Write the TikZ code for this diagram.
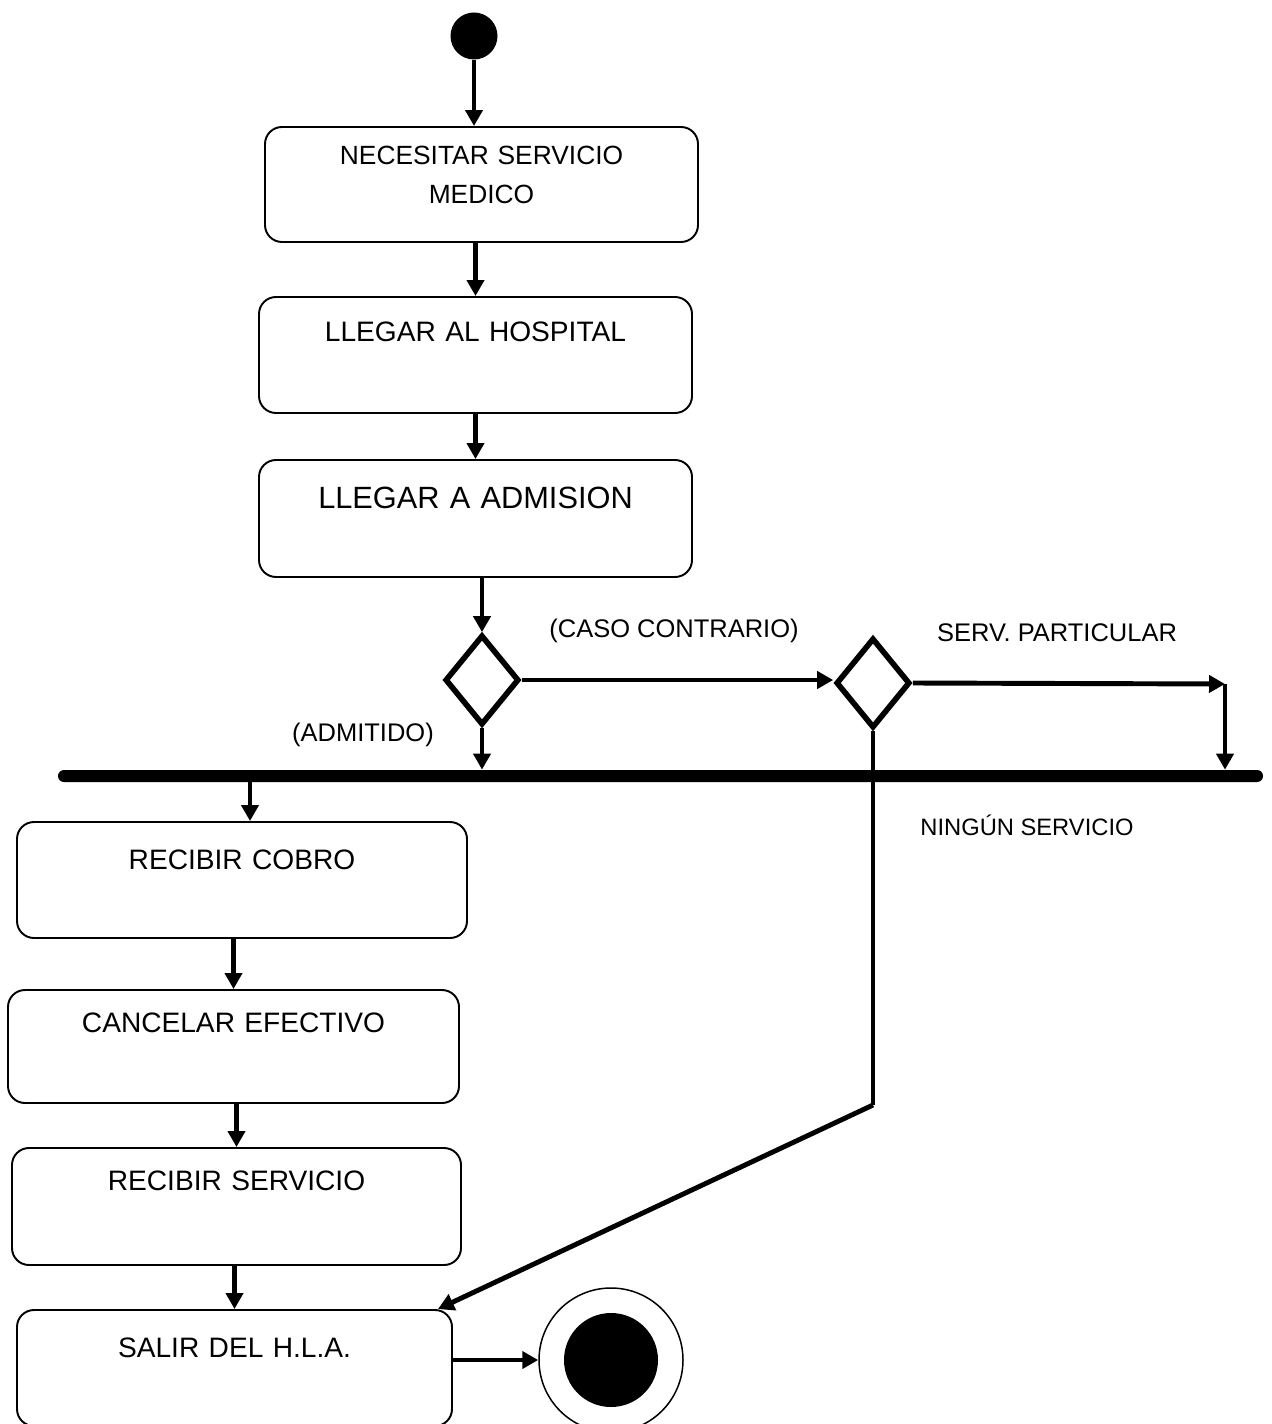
\documentclass[tikz,border=0pt]{standalone}
\usepackage{fontspec}
\setmainfont{Liberation Sans}
\usetikzlibrary{arrows.meta,shapes.geometric}

\begin{document}
\begin{tikzpicture}[
    x=0.2mm, y=-0.2mm,
    activity/.style={draw=black, line width=1.1pt, rounded corners=3.4mm, align=center,
      text width=#1, inner xsep=0pt, inner ysep=0pt, text height=9mm, text depth=14.2mm,
      font=\fontsize{16}{22}\selectfont},
    activity/.default=86.6mm,
    decision/.style={draw=black, line width=3.2pt, diamond, inner sep=0pt,
      minimum width=14.8mm, minimum height=18mm},
    bar/.style={fill=black, rounded corners=1.2mm, minimum width=241mm,
      minimum height=2.4mm, inner sep=0pt},
    guard/.style={font=\fontsize{14.5}{17}\selectfont, inner sep=0pt},
    arrow/.style={-{Triangle[length=3.2mm,width=3.4mm]}, line width=2.8pt}
  ]
    \useasboundingbox (0,0) rectangle (1271,1424);

    \node[circle, fill, minimum size=9.4mm, inner sep=0pt] (start) at (474,36) {};
    \node[activity, text height=7.6mm, text depth=15.4mm, font=\fontsize{15}{22}\selectfont]
      (need) at (481.5,184.5) {NECESITAR SERVICIO\\MEDICO};
    \node[activity] (hospital) at (475.5,355) {LLEGAR AL HOSPITAL};
    \node[activity, text height=9.6mm, text depth=13.8mm, font=\fontsize{17.5}{21}\selectfont]
      (admision) at (475.5,518.5) {LLEGAR A ADMISION};

    \node[decision] (admit) at (482,680) {};
    \node[decision] (tipo) at (873,683) {};
    \node[bar] (fork) at (660.5,776) {};

    \node[activity=90mm, text height=9.4mm, text depth=13.8mm] (cobro) at (242,880) {RECIBIR COBRO};
    \node[activity=90.2mm, text height=8.4mm, text depth=14.2mm] (efectivo) at (233.5,1046.5) {CANCELAR EFECTIVO};
    \node[activity=89.8mm, text height=8.4mm, text depth=15mm] (servicio) at (236.5,1206.5) {RECIBIR SERVICIO};
    \node[activity=87mm, text height=9.4mm, text depth=13.8mm] (salir) at (234.5,1368) {SALIR DEL H.L.A.};

    \node[circle, draw, line width=0.85pt, minimum size=28.8mm, inner sep=0pt] (stop) at (611,1360) {};
    \node[circle, fill, minimum size=18.8mm, inner sep=0pt] (stopdot) at (stop.center) {};

    % guard labels
    \node[guard] (contrario) at (674,631) {(CASO CONTRARIO)};
    \node[guard] (particular) at (1057,633) {SERV. PARTICULAR};
    \node[guard] (admitido) at (363,735) {(ADMITIDO)};
    \node[guard, font=\fontsize{13.5}{16}\selectfont] (ninguno) at (1027,825) {NINGÚN SERVICIO};

    \coordinate (partend) at (1225,684);
    \coordinate (bend) at (873,1105);

    \draw[arrow] (start.south) -- (start.south |- need.north);
    \draw[arrow] (hospital.north |- need.south) -- (hospital.north);
    \draw[arrow] (hospital.south) -- (admision.north);
    \draw[arrow] (admit.north |- admision.south) -- (admit.north);
    \draw[arrow] (admit.east) -- (admit.east -| tipo.west);
    \draw[arrow] (tipo.east) -- (partend);
    \draw[arrow] (partend) -- (partend |- fork.north);
    \draw[arrow] (admit.south) -- (admit.south |- fork.north);
    \draw[line width=2.4pt] (tipo.south) -- (bend);
    \draw[arrow] (bend) -- ([xshift=-3mm]salir.north east);
    \draw[arrow] ([xshift=1.6mm]cobro.north |- fork.south) -- ([xshift=1.6mm]cobro.north);
    \draw[arrow] (efectivo.north |- cobro.south) -- (efectivo.north);
    \draw[arrow] (servicio.north |- efectivo.south) -- (servicio.north);
    \draw[arrow] (salir.north |- servicio.south) -- (salir.north);
    \draw[arrow] (salir.east |- stop.west) -- (stop.west);
  \end{tikzpicture}
\end{document}
